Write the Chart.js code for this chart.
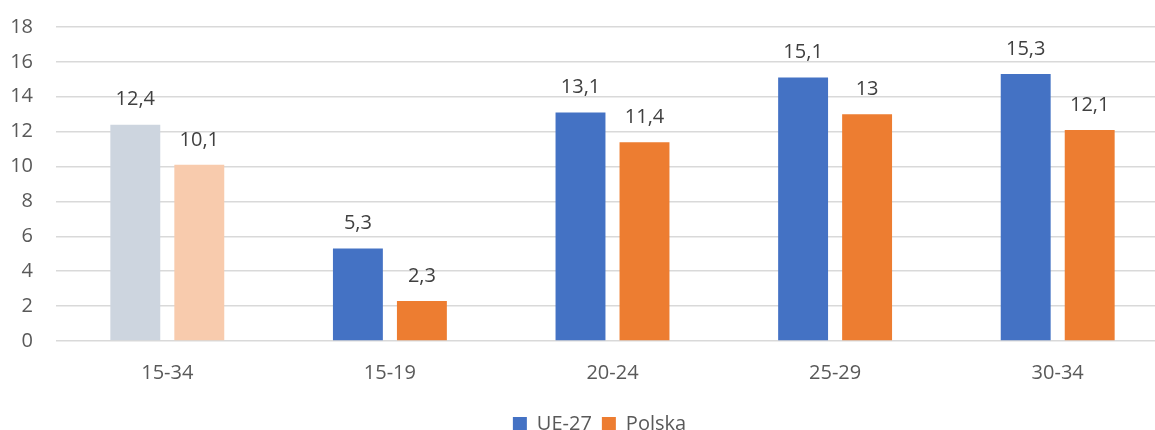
<!DOCTYPE html>
<html>
<head>
<meta charset="utf-8">
<script src="https://cdn.jsdelivr.net/npm/chart.js@4"></script>
<style>
  html, body { margin: 0; padding: 0; background: #fff; overflow: hidden; }
  #wrap { width: 1170px; height: 458px; margin-top: -8px; }
</style>
</head>
<body>
<div id="wrap"><canvas id="wykres" width="1170" height="458"></canvas></div>
<script>
// Dane
const kategorie = ['15-34', '15-19', '20-24', '25-29', '30-34'];
const ue27 = [12.4, 5.3, 13.1, 15.1, 15.3];
const polska = [10.1, 2.3, 11.4, 13, 12.1];
const osY = [0, 2, 4, 6, 8, 10, 12, 14, 16, 18];

// Kolory (pierwsza grupa wyblakla)
const niebieski = '#4472C4';
const pomaranczowy = '#ED7D31';
const niebieskiJasny = '#CDD5DF';
const pomaranczowyJasny = '#F8CBAD';
const koloryLegendy = [niebieski, pomaranczowy];

const czcionka = "'Open Sans', sans-serif";

function formatuj(v) {
  return String(v).replace('.', ',');
}

// Etykiety nad slupkami
const etykiety = {
  id: 'etykiety',
  afterDatasetsDraw(chart) {
    const ctx = chart.ctx;
    ctx.save();
    ctx.font = '20px ' + czcionka;
    ctx.fillStyle = '#404040';
    ctx.textAlign = 'center';
    ctx.textBaseline = 'middle';
    chart.data.datasets.forEach((ds, i) => {
      chart.getDatasetMeta(i).data.forEach((bar, j) => {
        ctx.fillText(formatuj(ds.data[j]), bar.x, bar.y - 25);
      });
    });
    ctx.restore();
  }
};

// Legenda troche w prawo (jak w oryginale)
const przesunLegende = {
  id: 'przesunLegende',
  afterLayout(chart) {
    if (chart.legend) {
      chart.legend.left += 15;
      chart.legend.right += 15;
    }
  }
};

new Chart(document.getElementById('wykres').getContext('2d'), {
  type: 'bar',
  data: {
    labels: kategorie,
    datasets: [
      {
        label: 'UE-27',
        data: ue27,
        backgroundColor: c => c.dataIndex === 0 ? niebieskiJasny : niebieski
      },
      {
        label: 'Polska',
        data: polska,
        backgroundColor: c => c.dataIndex === 0 ? pomaranczowyJasny : pomaranczowy
      }
    ]
  },
  options: {
    responsive: false,
    animation: false,
    categoryPercentage: 0.575,
    barPercentage: 0.78,
    layout: { padding: { top: 18, right: 1, bottom: 6, left: 0 } },
    plugins: {
      legend: {
        position: 'bottom',
        labels: {
          boxWidth: 14,
          boxHeight: 14,
          padding: 10,
          color: '#595959',
          font: { family: czcionka, size: 20 },
          generateLabels: chart => {
            const items = Chart.defaults.plugins.legend.labels.generateLabels(chart);
            items.forEach((it, i) => {
              it.fillStyle = koloryLegendy[i];
              it.strokeStyle = koloryLegendy[i];
              it.lineWidth = 0;
            });
            return items;
          }
        }
      },
      tooltip: { enabled: false }
    },
    scales: {
      x: {
        grid: { display: false },
        border: { display: false },
        ticks: {
          color: '#595959',
          padding: 12,
          font: { family: czcionka, size: 20 }
        },
        afterFit: s => { s.height = 63; }
      },
      y: {
        min: 0,
        max: 18,
        afterBuildTicks: s => { s.ticks = osY.map(v => ({ value: v })); },
        grid: { color: '#D9D9D9', lineWidth: 1.5, drawTicks: false },
        border: { display: false },
        ticks: {
          color: '#595959',
          padding: 23,
          font: { family: czcionka, size: 20 }
        },
        afterFit: s => { s.width = 56; }
      }
    }
  },
  plugins: [etykiety, przesunLegende]
});
</script>
</body>
</html>
